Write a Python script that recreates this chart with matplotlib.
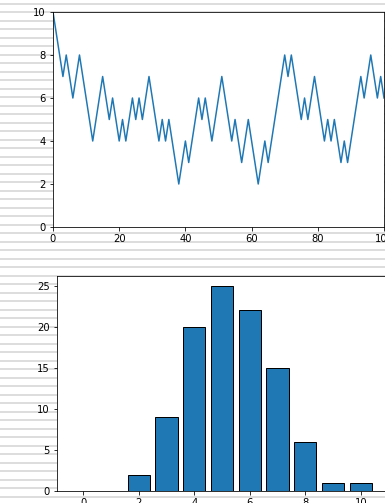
import matplotlib.pyplot as plt
import numpy as np

# random walk, one step per position
pasos = list(range(101))
camino = [10, 9, 8, 7, 8, 7, 6, 7, 8, 7, 6, 5, 4, 5, 6, 7, 6, 5, 6, 5,
          4, 5, 4, 5, 6, 5, 6, 5, 6, 7, 6, 5, 4, 5, 4, 5, 4, 3, 2, 3,
          4, 3, 4, 5, 6, 5, 6, 5, 4, 5, 6, 7, 6, 5, 4, 5, 4, 3, 4, 5,
          4, 3, 2, 3, 4, 3, 4, 5, 6, 7, 8, 7, 8, 7, 6, 5, 6, 5, 6, 7,
          6, 5, 4, 5, 4, 5, 4, 3, 4, 3, 4, 5, 6, 7, 6, 7, 8, 7, 6, 7, 6]

# histogram counts
valores = list(range(11))
conteos = [0, 0, 2, 9, 20, 25, 22, 15, 6, 1, 1]

fig = plt.figure(figsize=(385 / 72, 503 / 72), dpi=72)

# lined page background
fondo = fig.add_axes([0, 0, 1, 1], zorder=-1)
fondo.set_xlim(0, 385)
fondo.set_ylim(503, 0)
fondo.hlines(np.arange(3.5, 503, 8.5), 0, 385, color="#dddddd", linewidth=2)
fondo.axis("off")

ax1 = fig.add_axes([53 / 385, 1 - 227 / 503, 331 / 385, 215 / 503])
ax1.plot(pasos, camino)
ax1.set_xlim(0, 100)
ax1.set_ylim(0, 10)

ax2 = fig.add_axes([57 / 385, 1 - 491 / 503, 330 / 385, 215.5 / 503])
ax2.bar(valores, conteos, width=0.8, edgecolor="black")

plt.savefig("out.png", dpi=72)
